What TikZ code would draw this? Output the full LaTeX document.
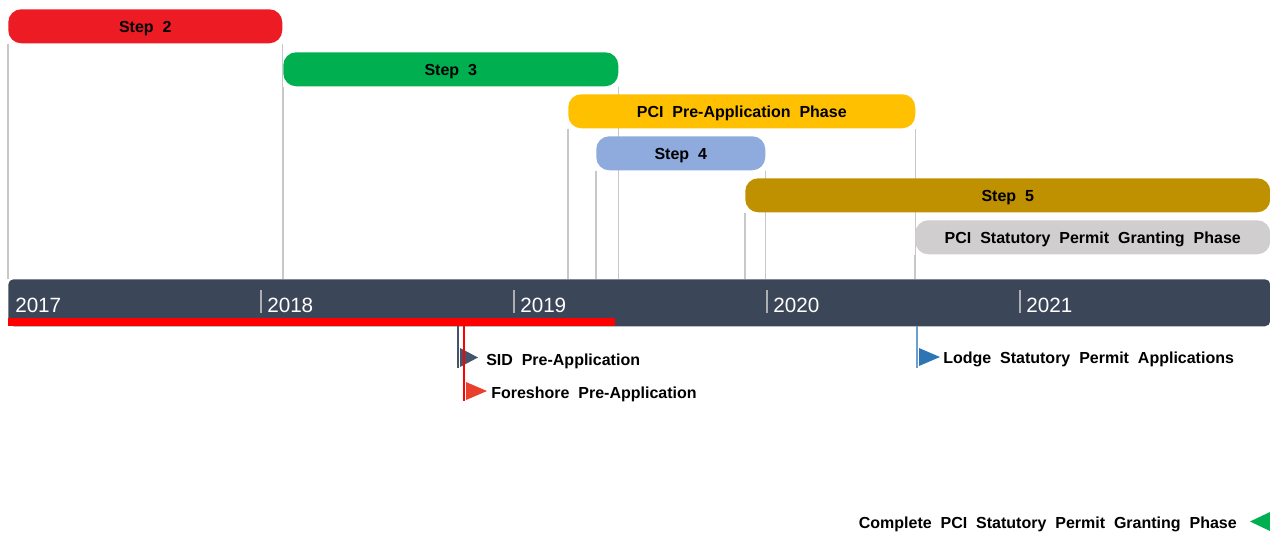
\documentclass[tikz,border=0pt]{standalone}
\usepackage{fontspec}
\setmainfont{Liberation Sans}[WordSpace=2]
\usepackage{xcolor}
\usepackage{tikz}
\usetikzlibrary{backgrounds}

\definecolor{stepred}{HTML}{ED1C24}
\definecolor{stepgreen}{HTML}{00B050}
\definecolor{pregold}{HTML}{FFC000}
\definecolor{stepblue}{HTML}{8FAADC}
\definecolor{stepbrown}{HTML}{BF9000}
\definecolor{statgrey}{HTML}{D0CECE}
\definecolor{slate}{HTML}{3B4658}
\definecolor{guidegrey}{HTML}{C8C8C8}
\definecolor{sidslate}{HTML}{44546A}
\definecolor{shorered}{HTML}{E8402D}
\definecolor{lodgeblue}{HTML}{2E75B6}

\tikzset{
  bar/.style={anchor=north west, inner sep=0pt, minimum height=25.5pt, text height=10pt, text depth=0pt, rounded corners=9.75pt, font=\bfseries\fontsize{12}{14}\selectfont},
  guide/.style={draw=guidegrey, line width=0.9pt},
  year/.style={anchor=base west, inner sep=0.75pt, text=white, font=\fontsize{15.5}{17}\selectfont},
  flag/.style={anchor=base west, inner sep=0.75pt, font=\bfseries\fontsize{12}{14}\selectfont}
}

\begin{document}
\begin{tikzpicture}[x=0.75pt,y=0.75pt,yscale=-1,xscale=1]

\useasboundingbox (0,0) rectangle (1270,533);

\node [bar, fill=stepred, minimum width=205.5pt] (s2) at (8,9) {Step 2};

\node [bar, fill=stepgreen, minimum width=251.25pt] (s3) at (283,52) {Step 3};

\node [bar, fill=pregold, minimum width=260.25pt] (pre) at (568,94) {PCI Pre-Application Phase};

\node [bar, fill=stepblue, minimum width=126.75pt] (s4) at (596,136) {Step 4};

\node [bar, fill=stepbrown, minimum width=393.75pt] (s5) at (745,178) {Step 5};

\node [bar, fill=statgrey, minimum width=266.25pt] (stat) at (915,220) {PCI Statutory Permit Granting Phase};

\node [anchor=north west, inner sep=0pt, fill=slate, minimum width=946.5pt, minimum height=35.25pt, rounded corners=4pt] (tl) at (8,279) {};

\begin{scope}[on background layer]
\foreach \b in {s2,s3,pre,s4,s5,stat}{
  \draw [guide] (\b.south west) -- (\b.south west |- tl.north) ;
}
\foreach \b in {s2,s3,pre,s4,stat}{
  \draw [guide] (\b.south east) -- (\b.south east |- tl.north) ;
}
\end{scope}

\foreach \x in {261,514,767,1020}{
  \draw [color=guidegrey!80!slate, line width=0.9pt] (\x,290) -- (\x,313) ;
}

\node [year] (y17) at (14,312) {2017};
\node [year] (y18) at (266,312) {2018};
\node [year] (y19) at (519,312) {2019};
\node [year] (y20) at (772,312) {2020};
\node [year] (y21) at (1025,312) {2021};

\fill [red] (8,318) rectangle (615,325.5) ;

\coordinate (sidpole) at (458,326);
\draw [color=sidslate, line width=1.5pt] (sidpole) -- ++(0,42) ;
\fill [sidslate] (460,348) -- (460,367) -- (478,357.5) -- cycle ;
\node [flag] (sid) at (485,365) {SID Pre-Application};

\coordinate (shorepole) at (464,326);
\draw [color=red, line width=1.2pt] (shorepole) -- ++(0,75) ;
\fill [shorered] (466,382) -- (466,400) -- (487,391) -- cycle ;
\node [flag] (shore) at (490,398) {Foreshore Pre-Application};

\coordinate (lodgepole) at (917,326);
\draw [color=lodgeblue!70, line width=1.2pt] (lodgepole) -- ++(0,42) ;
\fill [lodgeblue] (919,348) -- (919,366) -- (940,357) -- cycle ;
\node [flag] (lodge) at (942,363) {Lodge Statutory Permit Applications};

\fill [stepgreen] (1270,512) -- (1270,531) -- (1250,521.5) -- cycle ;
\node [flag, anchor=base east] (done) at (1238,528) {Complete PCI Statutory Permit Granting Phase};

\end{tikzpicture}
\end{document}
